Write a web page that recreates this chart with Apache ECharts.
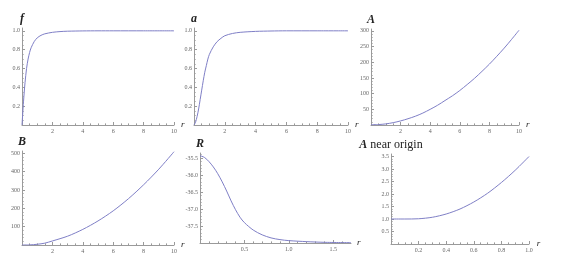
<!DOCTYPE html>
<html><head><meta charset="utf-8">
<script src="https://cdn.jsdelivr.net/npm/echarts@6/dist/echarts.min.js"></script>
<style>html,body{margin:0;padding:0;background:#fff}#c{width:570px;height:267px}</style>
</head><body><div id="c"></div>
<script>
// ---- data ----
const fR    = [0,0.1,0.2,0.3,0.4,0.5,0.6,0.8,1.0,1.25,1.5,2,2.5,3,4,5,6,8,10];
const fVals = [0,0.25,0.45,0.6,0.7,0.77,0.82,0.885,0.925,0.952,0.968,0.984,0.992,0.996,0.999,1,1,1,1];

const aR    = [0,0.1,0.2,0.3,0.4,0.5,0.6,0.7,0.8,0.9,1.0,1.25,1.5,1.75,2,2.5,3,4,5,6,8,10];
const aVals = [0,0.03,0.09,0.17,0.27,0.37,0.47,0.56,0.63,0.7,0.75,0.83,0.885,0.92,0.948,0.972,0.984,0.994,0.998,1,1,1];

const AR    = [0,0.5,1,1.5,2,2.5,3,3.5,4,4.5,5,5.5,6,6.5,7,7.5,8,8.5,9,9.5,10];
const AVals = [1,1.4,3.5,7.5,13,20,28,38,50,63,78,93,110,129,149,171,194,219,245,273,302];

const BR    = [0,0.5,1,1.5,2,3,4,5,6,7,8,9,10];
const BVals = [0,0.5,4,10,22,48,85,131,186,252,328,413,508];

const RR    = [0,0.05,0.1,0.15,0.2,0.25,0.3,0.35,0.4,0.45,0.5,0.6,0.7,0.8,0.9,1.0,1.2,1.4,1.7];
const RVals = [-35.43,-35.48,-35.6,-35.76,-35.96,-36.2,-36.47,-36.76,-37.02,-37.24,-37.4,-37.62,-37.76,-37.85,-37.9,-37.93,-37.96,-37.98,-37.99];

const A0R    = [0,0.1,0.2,0.3,0.4,0.5,0.6,0.7,0.8,0.9,1.0];
const A0Vals = [1.0,1.0,1.01,1.07,1.2,1.4,1.68,2.03,2.46,2.95,3.5];

// tick labels
const x10Ticks  = [2,4,6,8,10];
const unitTicks = [0.2,0.4,0.6,0.8,1.0];
const AYTicks   = [50,100,150,200,250,300];
const BYTicks   = [100,200,300,400,500];
const RYTicks   = [-37.5,-37.0,-36.5,-36.0,-35.5];
const RXTicks   = [0.5,1.0,1.5];
const A0XTicks  = [0.2,0.4,0.6,0.8,1.0];
const A0YTicks  = [0.5,1.0,1.5,2.0,2.5,3.0,3.5];

const FONT = 'Liberation Serif';
const AX = '#9a9a9a';
const LINE = '#7f7fc6';

const panels = [
  {name:'f', r:fR, v:fVals, grid:{left:22,top:28,width:152,height:97},
   x:{min:0,max:10,interval:2,minor:0.5,ticks:x10Ticks,dec:0},
   y:{min:0,max:1.03,interval:0.2,minor:0.05,ticks:unitTicks,dec:1}},
  {name:'a', r:aR, v:aVals, grid:{left:194,top:28,width:154,height:97},
   x:{min:0,max:10,interval:2,minor:0.5,ticks:x10Ticks,dec:0},
   y:{min:0,max:1.03,interval:0.2,minor:0.05,ticks:unitTicks,dec:1}},
  {name:'A', r:AR, v:AVals, grid:{left:371,top:29,width:148,height:96},
   x:{min:0,max:10,interval:2,minor:0.5,ticks:x10Ticks,dec:0},
   y:{min:0,max:306,interval:50,minor:10,ticks:AYTicks,dec:0}},
  {name:'B', r:BR, v:BVals, grid:{left:22,top:151,width:152,height:94},
   x:{min:0,max:10,interval:2,minor:0.5,ticks:x10Ticks,dec:0},
   y:{min:0,max:512,interval:100,minor:20,ticks:BYTicks,dec:0}},
  {name:'R', r:RR, v:RVals, grid:{left:200,top:153,width:151,height:90},
   x:{min:0,max:1.7,interval:0.5,minor:0.1,ticks:RXTicks,dec:1},
   y:{min:-38,max:-35.35,interval:0.5,minor:0.1,ticks:RYTicks,dec:1}},
  {name:'{i|A} near origin', r:A0R, v:A0Vals, grid:{left:391,top:154,width:138,height:90},
   x:{min:0,max:1.0,interval:0.2,minor:0.05,ticks:A0XTicks,dec:1},
   y:{min:0,max:3.6,interval:0.5,minor:0.1,ticks:A0YTicks,dec:1}}
];

function minorValues(c){
  const out=[]; const n=Math.round((c.max-c.min)/c.minor);
  for(let i=1;i<=n;i++){
    const v=+(c.min+i*c.minor).toFixed(6);
    if(v>=c.max) break;
    const k=(v-c.min)/c.interval;
    if(Math.abs(k-Math.round(k))<1e-6) continue;
    out.push(v);
  }
  return out;
}

const grids=[], xAxes=[], yAxes=[], series=[];
panels.forEach((p,i)=>{
  grids.push(Object.assign({containLabel:false},p.grid));
  const mk=(c,pos,isX)=>{
    const main={type:'value',gridIndex:i,position:pos,min:c.min,max:c.max,interval:c.interval,
      axisLine:{show:true,onZero:false,lineStyle:{color:AX,width:1}},
      axisTick:{show:true,inside:true,length:3,customValues:c.ticks,lineStyle:{color:AX,width:1}},
      minorTick:{show:false},
      axisLabel:{show:true,customValues:c.ticks,formatter:v=>Number(v).toFixed(c.dec),
        fontFamily:FONT,fontSize:6,color:'#666',margin:isX?3:2},
      splitLine:{show:false}};
    const minor={type:'value',gridIndex:i,position:pos,min:c.min,max:c.max,interval:c.interval,
      axisLine:{show:false},axisLabel:{show:false},splitLine:{show:false},
      axisTick:{show:true,inside:true,length:1.6,customValues:minorValues(c),lineStyle:{color:AX,width:1}}};
    return [main,minor];
  };
  const [xm,xn]=mk(p.x,'bottom',true);
  xm.name='r'; xm.nameLocation='end'; xm.nameGap=6;
  xm.nameTextStyle={fontFamily:FONT,fontStyle:'italic',fontSize:9,color:'#222'};
  const [ym,yn]=mk(p.y,'left',false);
  ym.name=p.name; ym.nameLocation='end'; ym.nameGap=3;
  ym.nameTextStyle={fontFamily:FONT,fontStyle:p.name.length>1?'normal':'italic',fontWeight:p.name.length>1?'normal':'bold',fontSize:12,color:'#222',
    rich:{i:{fontFamily:FONT,fontStyle:'italic',fontWeight:'bold',fontSize:12,color:'#222'}}};
  xAxes.push(xm,xn); yAxes.push(ym,yn);
  series.push({type:'line',xAxisIndex:2*i,yAxisIndex:2*i,showSymbol:false,smooth:0.3,
    lineStyle:{color:LINE,width:1},itemStyle:{color:LINE},
    data:p.r.map((r,j)=>[r,p.v[j]])});
});

const chart=echarts.init(document.getElementById('c'),null,{renderer:'canvas'});
chart.setOption({animation:false,backgroundColor:'#fff',grid:grids,xAxis:xAxes,yAxis:yAxes,series:series});
</script></body></html>
